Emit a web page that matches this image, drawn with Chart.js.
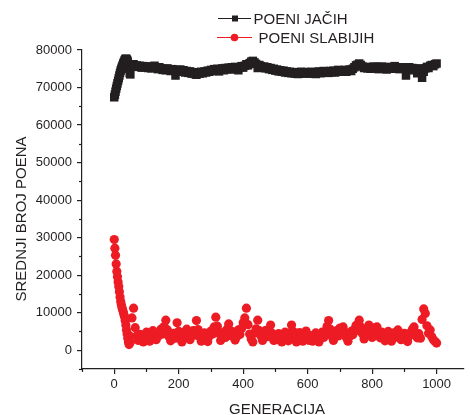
<!DOCTYPE html>
<html>
<head>
<meta charset="utf-8">
<script src="https://cdn.jsdelivr.net/npm/chart.js@4.4.1/dist/chart.umd.min.js"></script>
<style>
  body { margin: 0; background: #fff; overflow: hidden; }
</style>
</head>
<body>
<canvas id="genChart" width="470" height="415"></canvas>
<script>
// generations sampled (dense at the start, then every 5th)
const generations = [
  0, 2, 4, 6, 8, 10, 12, 14, 16, 18, 20, 22, 24, 26, 28, 30, 32, 34, 36, 38, 40, 42, 44, 46, 48, 50,
  55, 60, 65, 70, 75, 80, 85, 90, 95, 100,
  105, 110, 115, 120, 125, 130, 135, 140, 145, 150,
  155, 160, 165, 170, 175, 180, 185, 190, 195, 200,
  205, 210, 215, 220, 225, 230, 235, 240, 245, 250,
  255, 260, 265, 270, 275, 280, 285, 290, 295, 300,
  305, 310, 315, 320, 325, 330, 335, 340, 345, 350,
  355, 360, 365, 370, 375, 380, 385, 390, 395, 400,
  405, 410, 415, 420, 425, 430, 435, 440, 445, 450,
  455, 460, 465, 470, 475, 480, 485, 490, 495, 500,
  505, 510, 515, 520, 525, 530, 535, 540, 545, 550,
  555, 560, 565, 570, 575, 580, 585, 590, 595, 600,
  605, 610, 615, 620, 625, 630, 635, 640, 645, 650,
  655, 660, 665, 670, 675, 680, 685, 690, 695, 700,
  705, 710, 715, 720, 725, 730, 735, 740, 745, 750,
  755, 760, 765, 770, 775, 780, 785, 790, 795, 800,
  805, 810, 815, 820, 825, 830, 835, 840, 845, 850,
  855, 860, 865, 870, 875, 880, 885, 890, 895, 900,
  905, 910, 915, 920, 925, 930, 935, 940, 945, 950,
  955, 960, 965, 970, 975, 980, 985, 990, 995, 1000
];

// average points of the stronger players
const poeniJacih = [
  67400, 68100, 68900, 69700, 70400, 71100, 71800, 72500, 73200, 73900, 74500, 75000, 75500,
  75900, 76400, 76800, 77200, 77500, 77700, 77600, 77300, 76900, 76200, 75000, 73800, 73500,
  75900, 76200, 75700, 75900, 75500, 75800, 75300, 75700, 75400, 75600,
  75200, 75600, 75100, 75500, 75800, 75300, 74900, 75400, 75100, 74700,
  75000, 74600, 75100, 74800, 74400, 74900, 74500, 73200, 74700, 74300,
  74800, 74200, 74600, 74000, 74400, 73900, 74300, 73700, 74100, 73600,
  73400, 74000, 73700, 74200, 73800, 74300, 74000, 74500, 74200, 74700,
  74400, 74900, 74500, 75000, 74300, 74800, 75100, 74600, 75200, 74900,
  75300, 74800, 75400, 75000, 75500, 75100, 74600, 75400, 75700, 75300,
  75800, 76200, 75900, 76500, 76900, 77100, 76700, 76300, 75200, 76000,
  75700, 75300, 75600, 75100, 75400, 74900, 75200, 74700, 75000, 74500,
  74800, 74300, 74600, 74200, 74500, 74000, 74300, 73900, 74200, 73800,
  74100, 73700, 74000, 73600, 73900, 74200, 73800, 74100, 73700, 74000,
  73800, 74200, 73700, 74000, 73600, 73900, 74300, 73800, 74100, 74400,
  74000, 74300, 73900, 74400, 74100, 74500, 74000, 74400, 74700, 74200,
  74600, 74300, 74700, 74200, 74500, 74800, 74400, 75000, 75400, 75900,
  76100, 76400, 76000, 75600, 75200, 75500, 75100, 75400, 75000, 75300,
  75600, 75200, 75500, 74900, 75300, 75600, 75100, 75400, 74800, 75200,
  75500, 75000, 75400, 75700, 75100, 75400, 74900, 75300, 75000, 75400,
  73200, 75100, 75400, 74900, 75200, 74600, 75000, 73800, 75100, 74800,
  72600, 74200, 75100, 75500, 75200, 75800, 76000, 75700, 76200, 76400
];

// average points of the weaker players
const poeniSlabijih = [
  29500, 27200, 25300, 23000, 21000, 19600, 18200, 17000, 15600, 14200, 13000, 12200, 11400,
  10800, 10200, 9500, 8900, 7900, 6700, 5400, 4300, 3200, 2200, 1500, 3800, 2100,
  8600, 11200, 6000, 3800, 2600, 4200, 3300, 2200, 3600, 4800,
  3500, 2400, 3900, 5200, 4100, 2800, 3600, 4700, 5600, 4300,
  6300, 8000, 5400, 3600, 2500, 3400, 4500, 3200, 7300, 5000,
  3300, 2200, 3800, 4900, 5600, 4200, 2800, 3900, 5200, 4000,
  7900, 5500, 3600, 2400, 3500, 4600, 3400, 2300, 3800, 5100,
  4300, 6200, 8800, 6400, 4500, 2600, 3700, 4800, 3400, 5600,
  7000, 5200, 3800, 4900, 2700, 3600, 5400, 4200, 5800, 7300,
  8600, 11200, 6800, 4300, 3000, 2200, 4600, 5700, 8000, 5200,
  3800, 2600, 4100, 5300, 3600, 4600, 6700, 4500, 2600, 3900,
  2800, 4400, 3300, 2200, 3700, 4800, 3500, 2500, 4600, 6700,
  5000, 3200, 2200, 3600, 4700, 3400, 2400, 3800, 5100, 3600,
  2600, 3900, 2400, 3500, 4600, 3200, 2200, 3600, 4800, 3400,
  4900, 6300, 7900, 5600, 3700, 2600, 4100, 5200, 3800, 5900,
  4700, 6200, 4800, 3400, 2400, 3700, 5000, 4100, 5500, 6600,
  5300, 8000, 6200, 4400, 3000, 4200, 5300, 6700, 4700, 3400,
  5000, 6000, 6200, 4500, 3300, 4800, 3600, 2500, 3900, 5000,
  3600, 2400, 3800, 4700, 3500, 5400, 4000, 2800, 3600, 4500,
  3200, 2300, 3800, 4800, 5600, 6200, 4600, 3300, 4400, 3200,
  8200, 11000, 9800, 6500, 4500, 5400, 3600, 2800, 2300, 1900
];

const seriesNames = ['POENI JAČIH', 'POENI SLABIJIH'];
const xTicks = [0, 200, 400, 600, 800, 1000];
const xMinorTicks = [-100, 100, 300, 500, 700, 900];
const yTicks = [0, 10000, 20000, 30000, 40000, 50000, 60000, 70000, 80000];
const yMinorTicks = [-5000, 5000, 15000, 25000, 35000, 45000, 55000, 65000, 75000];

const ink = '#231f20';
const red = '#ed1c24';
const fontFamily = '"Liberation Sans", Arial, sans-serif';

const toPoints = values => values.map((v, i) => ({ x: generations[i], y: v }));

// minor ticks, axis titles and the legend
const decorPlugin = {
  id: 'decor',
  afterDraw(chart) {
    const c = chart.ctx;
    const area = chart.chartArea;
    const xs = chart.scales.x;
    const ys = chart.scales.y;
    c.save();
    c.strokeStyle = ink;
    c.lineWidth = 1.2;
    xMinorTicks.forEach(v => {
      const px = Math.round(xs.getPixelForValue(v)) + 0.5;
      c.beginPath();
      c.moveTo(px, area.bottom);
      c.lineTo(px, area.bottom + 3);
      c.stroke();
    });
    yMinorTicks.forEach(v => {
      const py = Math.round(ys.getPixelForValue(v)) + 0.5;
      c.beginPath();
      c.moveTo(area.left, py);
      c.lineTo(area.left - 3, py);
      c.stroke();
    });

    c.fillStyle = ink;
    c.font = '15px ' + fontFamily;
    c.textBaseline = 'alphabetic';
    c.textAlign = 'center';
    c.fillText('GENERACIJA', 277, 414);
    c.save();
    c.translate(26, 219);
    c.rotate(-Math.PI / 2);
    c.fillText('SREDNJI BROJ POENA', 0, 0);
    c.restore();

    // legend: line - marker - line, then the label
    c.textAlign = 'left';
    c.lineWidth = 1;
    c.strokeStyle = ink;
    c.beginPath();
    c.moveTo(218, 18.5);
    c.lineTo(251, 18.5);
    c.stroke();
    c.fillRect(232, 15.5, 6, 6);
    c.fillText(seriesNames[0], 253.5, 23.5);

    c.strokeStyle = red;
    c.fillStyle = red;
    c.beginPath();
    c.moveTo(217, 37.5);
    c.lineTo(252, 37.5);
    c.stroke();
    c.beginPath();
    c.arc(234.5, 37.5, 3.8, 0, Math.PI * 2);
    c.fill();
    c.fillStyle = ink;
    c.fillText(seriesNames[1], 258.5, 42.8);
    c.restore();
  }
};

const axisGrid = {
  drawOnChartArea: false,
  drawTicks: true,
  tickLength: 5,
  color: ink,
  lineWidth: 1.2
};

new Chart(document.getElementById('genChart').getContext('2d'), {
  type: 'scatter',
  data: {
    datasets: [
      {
        label: seriesNames[0],
        data: toPoints(poeniJacih),
        pointStyle: 'rect',
        pointRadius: 6,
        borderWidth: 0,
        backgroundColor: ink,
        borderColor: ink
      },
      {
        label: seriesNames[1],
        data: toPoints(poeniSlabijih),
        pointStyle: 'circle',
        pointRadius: 4.6,
        borderWidth: 0,
        backgroundColor: red,
        borderColor: red
      }
    ]
  },
  options: {
    responsive: false,
    animation: false,
    layout: { padding: { top: 50, right: 0, bottom: 0, left: 0 } },
    plugins: {
      legend: { display: false },
      tooltip: { enabled: false }
    },
    scales: {
      x: {
        type: 'linear',
        min: -100,
        max: 1085,
        afterBuildTicks: scale => { scale.ticks = xTicks.map(v => ({ value: v })); },
        afterFit: scale => { scale.height = 46; },
        grid: axisGrid,
        border: { display: true, color: ink, width: 1.2 },
        ticks: {
          color: ink,
          padding: 3,
          maxRotation: 0,
          callback: v => String(v),
          font: { family: fontFamily, size: 13 }
        }
      },
      y: {
        type: 'linear',
        min: -5000,
        max: 80000,
        afterBuildTicks: scale => { scale.ticks = yTicks.map(v => ({ value: v })); },
        afterFit: scale => { scale.width = 82; },
        grid: axisGrid,
        border: { display: true, color: ink, width: 1.2 },
        ticks: {
          color: ink,
          padding: 5,
          callback: v => String(v),
          font: { family: fontFamily, size: 13 }
        }
      }
    }
  },
  plugins: [decorPlugin]
});
</script>
</body>
</html>
